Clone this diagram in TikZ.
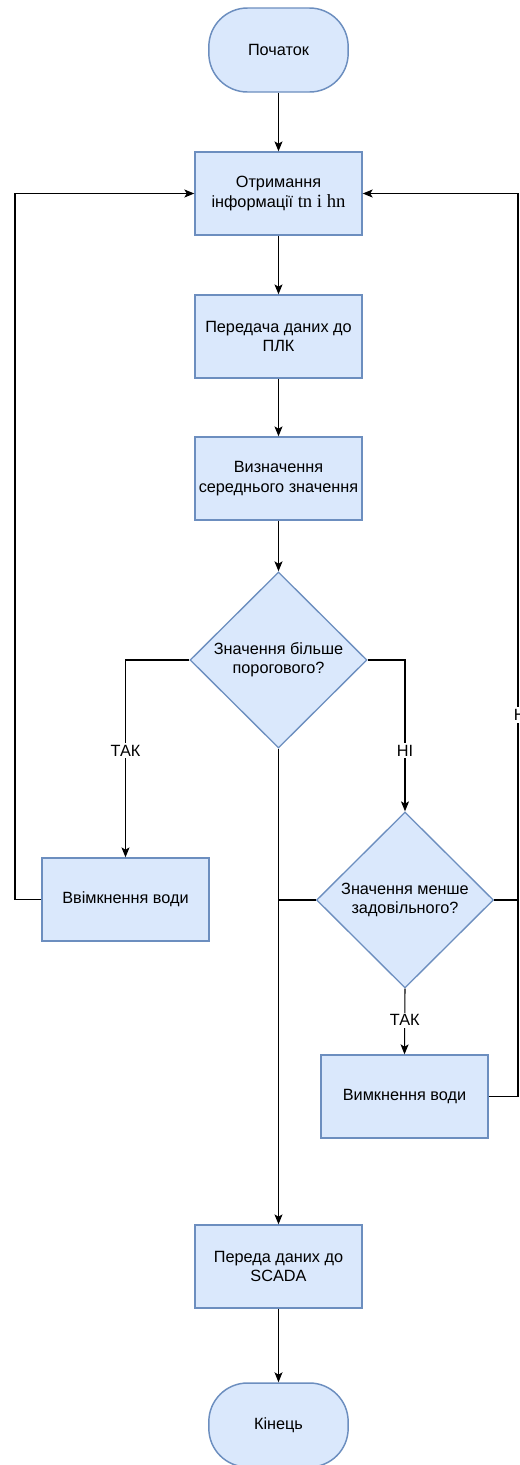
\documentclass[tikz,border=0pt]{standalone}
\usepackage{fontspec}
\setmainfont{Liberation Sans}
\newfontfamily\serifpart{Liberation Serif}
\usetikzlibrary{shapes.geometric,arrows.meta}
\definecolor{boxfill}{HTML}{DAE8FC}
\definecolor{boxdraw}{HTML}{6C8EBF}
\begin{document}
\begin{tikzpicture}[x=0.75pt,y=-0.75pt,
  every node/.style={font=\fontsize{12.2}{14.5}\selectfont},
  procbox/.style={draw=boxdraw,fill=boxfill,line width=1pt,rectangle,
    minimum width=125.25pt,minimum height=62.25pt,inner sep=0pt,align=center},
  termbox/.style={draw=boxdraw,fill=boxfill,line width=1.1pt,rectangle,rounded corners=29pt,
    minimum width=104.5pt,minimum height=63pt,inner sep=0pt,align=center},
  decbox/.style={draw=boxdraw,fill=boxfill,line width=1pt,diamond,
    minimum width=132.75pt,minimum height=132pt,inner sep=0pt,align=center},
  conn/.style={draw=black,line width=0.8pt},
  arr/.style={conn,-{Stealth[length=7.5pt,width=6pt,inset=1.8pt]}},
  lbl/.style={fill=white,inner sep=1.5pt}
]
\useasboundingbox (0,0) rectangle (520,1465);
\fill[white] (0,0) rectangle (520,1465);

\node[termbox] (start) at (278.5,50) {Початок};
\node[procbox] (b1) at (278.5,193.5) {Отримання\\інформації {\serifpart\fontsize{14}{15}\selectfont tn і hn}};
\node[procbox] (b2) at (278.5,336.5) {Передача даних до\\ПЛК};
\node[procbox] (b3) at (278.5,478.5) {Визначення\\середнього значення};
\node[decbox] (d1) at (278.5,660) {Значення більше\\порогового?};
\node[procbox] (on) at (125.5,899.5) {Ввімкнення води};
\node[decbox] (d2) at (405,900) {Значення менше\\задовільного?};
\node[procbox] (off) at (404.5,1096.5) {Вимкнення води};
\node[procbox] (scada) at (278.5,1266.5) {Переда даних до\\SCADA};
\node[termbox] (end) at (278.5,1425) {Кінець};

\coordinate (Lx) at (15,0);
\coordinate (Rx) at (518,0);

\draw[arr] (start) -- (b1);
\draw[arr] (b1) -- (b2);
\draw[arr] (b2) -- (b3);
\draw[arr] (b3) -- (d1);
\draw[arr] (d1.west) -| node[lbl,pos=0.73]{ТАК} (on.north);
\draw[arr] (d1.east) -| node[lbl,pos=0.8]{НІ} (d2.north);
\draw[arr] (d1.south) -- (scada.north);
\draw[conn] (d2.west) -- (d2.west -| d1.south);
\draw[arr] (d2.south) -- node[lbl,pos=0.48]{ТАК} (off.north);
\draw[arr] (on.west) -- (on.west -| Lx) |- (b1.west);
\draw[arr] (d2.east) -- (d2.east -| Rx) |- node[lbl,pos=0.131,xshift=3pt]{НІ} (b1.east);
\draw[conn] (off.east) -- (off.east -| Rx) -- (d2.east -| Rx);
\draw[arr] (scada) -- (end);
\end{tikzpicture}
\end{document}
